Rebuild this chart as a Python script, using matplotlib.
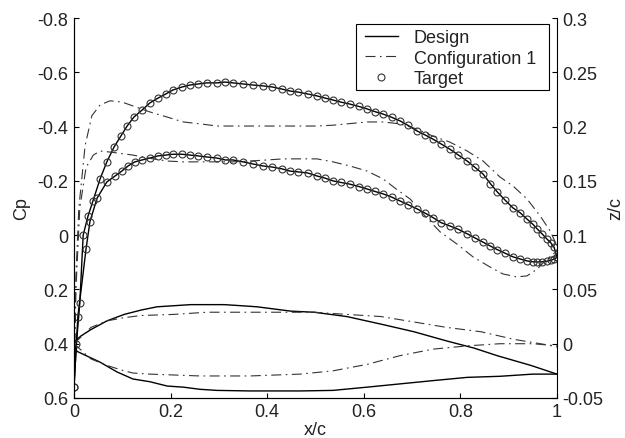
import matplotlib
matplotlib.use('Agg')
import matplotlib.pyplot as plt
from matplotlib.lines import Line2D
from matplotlib.patches import Rectangle

plt.rcParams['font.family'] = ['Liberation Sans', 'DejaVu Sans']
plt.rcParams['axes.unicode_minus'] = False

# ---------------- data ----------------
# Target Cp, upper branch (more negative)
tu_x = [0.0, 0.005, 0.012, 0.019, 0.029, 0.039, 0.054, 0.068, 0.083, 0.097, 0.110, 0.124,
        0.141, 0.157, 0.174, 0.190, 0.205, 0.224, 0.240, 0.257, 0.275, 0.296, 0.313, 0.329,
        0.350, 0.371, 0.391, 0.410, 0.431, 0.447, 0.464, 0.484, 0.503, 0.520, 0.536, 0.553,
        0.571, 0.590, 0.607, 0.623, 0.640, 0.658, 0.675, 0.692, 0.710, 0.726, 0.743, 0.760,
        0.778, 0.795, 0.814, 0.830, 0.847, 0.862, 0.876, 0.892, 0.909, 0.924, 0.938, 0.950,
        0.959, 0.969, 0.979, 0.987, 0.994, 1.0]
tu_cp = [0.56, 0.40, 0.25, 0.0, -0.07, -0.125, -0.207, -0.27, -0.325, -0.365, -0.402, -0.435,
         -0.461, -0.487, -0.505, -0.520, -0.535, -0.546, -0.553, -0.557, -0.561, -0.561, -0.564, -0.561,
         -0.557, -0.553, -0.550, -0.546, -0.538, -0.531, -0.527, -0.520, -0.513, -0.505, -0.498, -0.490,
         -0.483, -0.474, -0.465, -0.455, -0.446, -0.434, -0.421, -0.404, -0.384, -0.370, -0.354, -0.336,
         -0.317, -0.296, -0.273, -0.250, -0.225, -0.190, -0.160, -0.130, -0.100, -0.082, -0.059, -0.040,
         -0.023, -0.005, 0.014, 0.028, 0.045, 0.080]

# Target Cp, lower branch
tl_x = [0.0, 0.008, 0.025, 0.033, 0.048, 0.068, 0.085, 0.099, 0.112, 0.126, 0.141, 0.157,
        0.174, 0.190, 0.205, 0.224, 0.240, 0.257, 0.275, 0.296, 0.313, 0.329, 0.350, 0.371,
        0.391, 0.410, 0.431, 0.447, 0.464, 0.484, 0.503, 0.520, 0.536, 0.553, 0.571, 0.590,
        0.607, 0.623, 0.640, 0.658, 0.675, 0.692, 0.710, 0.726, 0.743, 0.760, 0.778, 0.795,
        0.814, 0.830, 0.847, 0.862, 0.876, 0.892, 0.909, 0.924, 0.938, 0.950, 0.959, 0.969,
        0.979, 0.987, 0.994, 1.0]
tl_cp = [0.56, 0.30, 0.05, -0.05, -0.137, -0.196, -0.218, -0.236, -0.255, -0.270, -0.277, -0.284,
         -0.292, -0.295, -0.298, -0.298, -0.295, -0.292, -0.288, -0.284, -0.277, -0.277, -0.270, -0.262,
         -0.255, -0.251, -0.244, -0.236, -0.233, -0.229, -0.218, -0.210, -0.200, -0.194, -0.188, -0.179,
         -0.170, -0.161, -0.152, -0.140, -0.126, -0.112, -0.097, -0.082, -0.065, -0.046, -0.034, -0.022,
         -0.005, 0.010, 0.026, 0.040, 0.053, 0.066, 0.080, 0.088, 0.095, 0.098, 0.099, 0.098,
         0.096, 0.093, 0.088, 0.082]

# Configuration 1 Cp
cu_x = [0.0, 0.004, 0.010, 0.023, 0.037, 0.054, 0.075, 0.100, 0.122, 0.157, 0.193, 0.226,
        0.261, 0.296, 0.364, 0.433, 0.500, 0.536, 0.607, 0.640, 0.675, 0.710, 0.743, 0.778,
        0.814, 0.847, 0.882, 0.909, 0.938, 0.965, 0.986, 1.0]
cu_cp = [0.55, 0.15, -0.10, -0.33, -0.44, -0.48, -0.495, -0.49, -0.476, -0.454, -0.435, -0.417,
         -0.410, -0.402, -0.402, -0.402, -0.402, -0.405, -0.417, -0.417, -0.410, -0.391, -0.365, -0.343,
         -0.310, -0.273, -0.214, -0.181, -0.133, -0.071, -0.015, 0.040]

cl_x = [0.0, 0.004, 0.012, 0.025, 0.040, 0.054, 0.080, 0.122, 0.157, 0.193, 0.226, 0.261,
        0.296, 0.329, 0.364, 0.400, 0.433, 0.468, 0.503, 0.536, 0.571, 0.607, 0.640, 0.667,
        0.696, 0.723, 0.758, 0.793, 0.826, 0.861, 0.888, 0.917, 0.938, 0.959, 0.979, 1.0]
cl_cp = [0.55, 0.20, -0.10, -0.25, -0.295, -0.31, -0.305, -0.295, -0.283, -0.273, -0.270, -0.270,
         -0.270, -0.270, -0.273, -0.277, -0.281, -0.281, -0.281, -0.270, -0.255, -0.236, -0.207, -0.170,
         -0.133, -0.078, -0.012, 0.033, 0.080, 0.117, 0.143, 0.154, 0.150, 0.125, 0.088, 0.058]

# Geometry z/c (right axis)
du_x = [0.0, 0.006, 0.014, 0.035, 0.068, 0.104, 0.139, 0.172, 0.207, 0.242, 0.275, 0.311,
        0.346, 0.379, 0.414, 0.449, 0.497, 0.565, 0.636, 0.704, 0.772, 0.828, 0.876, 0.946, 1.0]
du_z = [0.0, 0.004, 0.007, 0.013, 0.021, 0.027, 0.031, 0.034, 0.035, 0.036, 0.036, 0.036,
        0.035, 0.034, 0.032, 0.030, 0.029, 0.025, 0.018, 0.011, 0.0025, -0.004, -0.011, -0.020, -0.028]

dl_x = [0.0, 0.006, 0.054, 0.089, 0.122, 0.157, 0.193, 0.226, 0.261, 0.296, 0.364, 0.468,
        0.536, 0.607, 0.675, 0.743, 0.814, 0.882, 0.950, 1.0]
dl_z = [0.0, -0.007, -0.017, -0.026, -0.0325, -0.035, -0.039, -0.040, -0.042, -0.043, -0.0435, -0.0435,
        -0.043, -0.040, -0.037, -0.034, -0.031, -0.030, -0.028, -0.028]

gu_x = [0.0, 0.035, 0.068, 0.104, 0.139, 0.207, 0.275, 0.346, 0.414, 0.497, 0.565, 0.636,
        0.704, 0.772, 0.843, 0.911, 0.979, 1.0]
gu_z = [0.0, 0.015, 0.021, 0.024, 0.026, 0.027, 0.029, 0.029, 0.029, 0.029, 0.027, 0.025,
        0.020, 0.015, 0.011, 0.004, -0.001, -0.003]

gl_x = [0.0, 0.035, 0.068, 0.104, 0.122, 0.157, 0.261, 0.364, 0.468, 0.536, 0.607, 0.675,
        0.743, 0.814, 0.882, 0.950, 1.0]
gl_z = [0.0, -0.014, -0.020, -0.025, -0.027, -0.028, -0.0297, -0.0297, -0.028, -0.025, -0.019, -0.011,
        -0.005, -0.002, 0.000, 0.000, -0.002]

x_ticks = [0, 0.2, 0.4, 0.6, 0.8, 1]
x_tick_labels = ['0', '0.2', '0.4', '0.6', '0.8', '1']
cp_ticks = [-0.8, -0.6, -0.4, -0.2, 0, 0.2, 0.4, 0.6]
cp_tick_labels = ['-0.8', '-0.6', '-0.4', '-0.2', '0', '0.2', '0.4', '0.6']
z_ticks = [-0.05, 0, 0.05, 0.1, 0.15, 0.2, 0.25, 0.3]
z_tick_labels = ['-0.05', '0', '0.05', '0.1', '0.15', '0.2', '0.25', '0.3']
legend_labels = ['Design', 'Configuration 1', 'Target']

# ---------------- figure ----------------
W, H = 625, 439
FS = 13
TXT = '#222222'
dd = (0, (9, 4, 1.5, 4))

fig = plt.figure(figsize=(W / 100, H / 100), dpi=100)
ax = fig.add_axes([74 / W, 1 - 399 / H, 483 / W, 380 / H])
ax2 = ax.twinx()

# Cp curves
ax.plot(tu_x, tu_cp, color='black', lw=1.0)
ax.plot(tl_x, tl_cp, color='black', lw=1.0)
ax.plot(cu_x, cu_cp, color='#333333', lw=0.8, linestyle=dd)
ax.plot(cl_x, cl_cp, color='#333333', lw=0.8, linestyle=dd)
ax.plot(tu_x, tu_cp, linestyle='none', marker='o', ms=5, mfc='none', mec='#333333', mew=0.8)
ax.plot(tl_x, tl_cp, linestyle='none', marker='o', ms=5, mfc='none', mec='#333333', mew=0.8)

# geometry
ax2.plot(du_x, du_z, color='black', lw=1.0)
ax2.plot(dl_x, dl_z, color='black', lw=1.0)
ax2.plot(gu_x, gu_z, color='#333333', lw=0.8, linestyle=dd)
ax2.plot(gl_x, gl_z, color='#333333', lw=0.8, linestyle=dd)

ax.set_xlim(0, 1)
ax.set_ylim(0.6, -0.8)
ax2.set_ylim(-0.05, 0.3)

ax.set_xticks(x_ticks)
ax.set_xticklabels(x_tick_labels)
ax.set_yticks(cp_ticks)
ax.set_yticklabels(cp_tick_labels)
ax2.set_yticks(z_ticks)
ax2.set_yticklabels(z_tick_labels)

ax.tick_params(axis='x', direction='in', length=3.6, width=0.8, labelsize=FS, labelcolor=TXT, pad=3.6)
ax.tick_params(axis='y', direction='in', length=3.6, width=0.8, labelsize=FS, labelcolor=TXT, pad=4.3)
ax2.tick_params(axis='y', direction='in', length=3.6, width=0.8, labelsize=FS, labelcolor=TXT, pad=3.6)

for a in (ax, ax2):
    a.spines['top'].set_visible(False)
    for s in a.spines.values():
        s.set_linewidth(0.8)
        s.set_color('black')
ax.spines['right'].set_visible(False)

ax.set_xlabel('x/c', fontsize=FS, color=TXT, labelpad=0.5)
ax.set_ylabel('Cp', fontsize=FS, color=TXT, labelpad=5)
ax2.set_ylabel('z/c', fontsize=FS, color=TXT, labelpad=3)

# legend frame drawn as a rectangle, entries placed inside it
frame = Rectangle((356 / W, 1 - 91 / H), (549 - 356) / W, (91 - 25) / H,
                  transform=fig.transFigure, facecolor='white', edgecolor='black',
                  linewidth=0.8, zorder=10)
fig.patches.append(frame)

handles = [Line2D([], [], color='black', lw=1.0),
           Line2D([], [], color='#333333', lw=0.8, linestyle=dd),
           Line2D([], [], linestyle='none', marker='o', ms=5, mfc='none', mec='#333333', mew=0.8)]
leg = fig.legend(handles, legend_labels, loc='upper left',
                 bbox_to_anchor=(365 / W, 1 - 30 / H),
                 borderaxespad=0, borderpad=0, fontsize=FS, frameon=False,
                 handlelength=1.8, handletextpad=0.9,
                 labelspacing=0.2, numpoints=1)
leg.set_zorder(11)
for t in leg.get_texts():
    t.set_color(TXT)

fig.savefig('out.png', dpi=100)
